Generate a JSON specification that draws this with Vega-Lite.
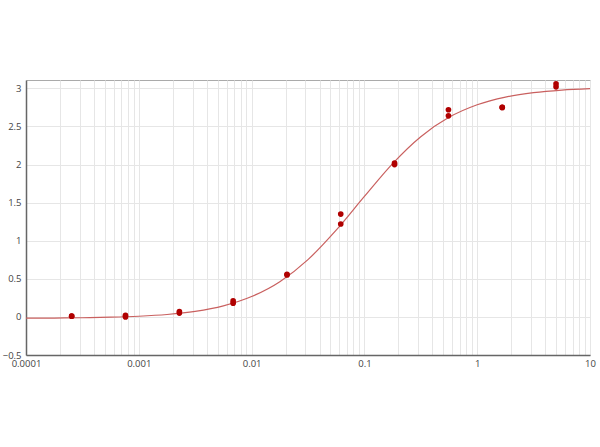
{
  "$schema": "https://vega.github.io/schema/vega-lite/v6.json",
  "autosize": "none",
  "padding": {"left": 26, "top": 80, "right": 10, "bottom": 92},
  "width": 564,
  "height": 275,
  "background": "white",
  "datasets": {
    "points": [
      {"conc": 0.000254, "od": 0.01}, {"conc": 0.000254, "od": 0.01},
      {"conc": 0.000762, "od": 0.02}, {"conc": 0.000762, "od": 0.0},
      {"conc": 0.00229, "od": 0.05}, {"conc": 0.00229, "od": 0.07},
      {"conc": 0.00686, "od": 0.18}, {"conc": 0.00686, "od": 0.21},
      {"conc": 0.0206, "od": 0.55}, {"conc": 0.0206, "od": 0.56},
      {"conc": 0.0617, "od": 1.35}, {"conc": 0.0617, "od": 1.22},
      {"conc": 0.185, "od": 2.0}, {"conc": 0.185, "od": 2.02},
      {"conc": 0.556, "od": 2.72}, {"conc": 0.556, "od": 2.64},
      {"conc": 1.667, "od": 2.75}, {"conc": 1.667, "od": 2.75},
      {"conc": 5, "od": 3.06}, {"conc": 5, "od": 3.02}
    ],
    "curve": [
      {"conc": 0.0001, "od": -0.017}, {"conc": 0.000178, "od": -0.015},
      {"conc": 0.000316, "od": -0.011}, {"conc": 0.000562, "od": -0.004},
      {"conc": 0.001, "od": 0.009}, {"conc": 0.00178, "od": 0.032},
      {"conc": 0.00316, "od": 0.073}, {"conc": 0.00562, "od": 0.145},
      {"conc": 0.01, "od": 0.267}, {"conc": 0.0178, "od": 0.462},
      {"conc": 0.0316, "od": 0.752}, {"conc": 0.0562, "od": 1.139},
      {"conc": 0.1, "od": 1.582}, {"conc": 0.178, "od": 2.013},
      {"conc": 0.316, "od": 2.366}, {"conc": 0.562, "od": 2.62},
      {"conc": 1, "od": 2.785}, {"conc": 1.78, "od": 2.886},
      {"conc": 3.16, "od": 2.944}, {"conc": 5.62, "od": 2.978},
      {"conc": 10, "od": 2.997}
    ]
  },
  "encoding": {
    "x": {
      "field": "conc",
      "type": "quantitative",
      "scale": {"type": "log", "domain": [0.0001, 10], "nice": false},
      "axis": {
        "title": null,
        "values": [0.0001, 0.0002, 0.0003, 0.0004, 0.0005, 0.0006, 0.0007, 0.0008, 0.0009,
                   0.001, 0.002, 0.003, 0.004, 0.005, 0.006, 0.007, 0.008, 0.009,
                   0.01, 0.02, 0.03, 0.04, 0.05, 0.06, 0.07, 0.08, 0.09,
                   0.1, 0.2, 0.3, 0.4, 0.5, 0.6, 0.7, 0.8, 0.9,
                   1, 2, 3, 4, 5, 6, 7, 8, 9, 10],
        "labelExpr": "abs(log(datum.value) / LN10 - round(log(datum.value) / LN10)) < 0.000001 ? format(datum.value, '~g') : ''",
        "ticks": false,
        "labelPadding": 3,
        "labelFlush": false,
        "labelOverlap": false
      }
    },
    "y": {
      "field": "od",
      "type": "quantitative",
      "scale": {"domain": [-0.5, 3.11], "nice": false, "zero": false},
      "axis": {
        "title": null,
        "values": [-0.5, 0, 0.5, 1, 1.5, 2, 2.5, 3],
        "format": "~g",
        "ticks": false,
        "labelPadding": 5,
        "labelFlush": false,
        "labelOverlap": false
      }
    }
  },
  "layer": [
    {
      "data": {"name": "curve"},
      "mark": {"type": "line", "color": "#c9605f", "strokeWidth": 1.2, "interpolate": "monotone"}
    },
    {
      "data": {"name": "points"},
      "mark": {"type": "circle", "color": "#b00000", "size": 32, "opacity": 1}
    }
  ],
  "config": {
    "view": {"stroke": "#aaaaaa", "strokeWidth": 1},
    "axis": {
      "gridColor": "#e6e6e6",
      "gridWidth": 1,
      "domainColor": "#666666",
      "domainWidth": 1.5,
      "labelFont": "Open Sans",
      "labelFontSize": 9.5,
      "labelColor": "#444444"
    }
  }
}
